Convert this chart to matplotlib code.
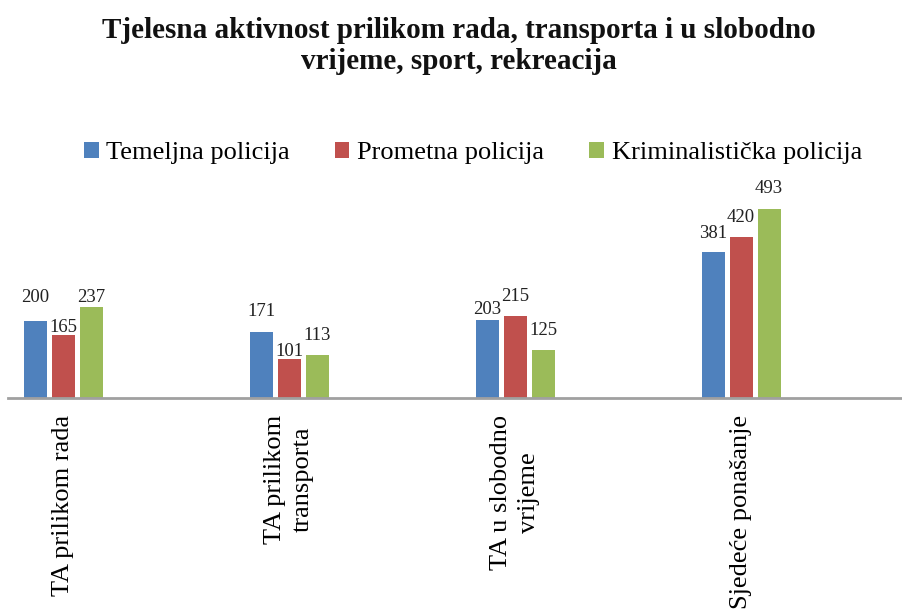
import matplotlib
matplotlib.use("Agg")
import matplotlib.pyplot as plt
import numpy as np

categories = ["TA prilikom rada", "TA prilikom\ntransporta", "TA u slobodno\nvrijeme", "Sjedeće ponašanje"]
series_names = ["Temeljna policija", "Prometna policija", "Kriminalistička policija"]
temeljna = [200, 171, 203, 381]
prometna = [165, 101, 215, 420]
kriminalisticka = [237, 113, 125, 493]

colors = ["#4F81BD", "#C0504D", "#9BBB59"]
# label gap above bar (pixels), mimicking the original label placement
label_gaps = [[19, 16, 6, 14], [3, 3, 15, 15], [5, 15, 15, 16]]

plt.rcParams['font.family'] = ['Liberation Serif', 'DejaVu Serif']

fig = plt.figure(figsize=(9.02, 6.09), dpi=100)
ax = fig.add_axes([8/902, (609-398)/609, 894/902, 520*0.3834/609])

x = np.arange(len(categories))
width = 23/226
step = 28/226
all_series = [temeljna, prometna, kriminalisticka]
for i, (vals, name, col) in enumerate(zip(all_series, series_names, colors)):
    pos = x + (i-1)*step
    bars = ax.bar(pos, vals, width, color=col, label=name, edgecolor='none')
    for j, (b, v) in enumerate(zip(bars, vals)):
        ax.annotate(str(v), (b.get_x()+b.get_width()/2, v), xytext=(0, label_gaps[i][j]*0.72),
                    textcoords='offset points', ha='center', va='baseline', fontsize=13.5, color='#222222')

ax.set_xlim(-(63-8)/226, (902-63)/226)
ax.set_ylim(0, 520)
for s in ['top', 'right', 'left']:
    ax.spines[s].set_visible(False)
ax.spines['bottom'].set_color('#A0A0A0')
ax.spines['bottom'].set_linewidth(2)
ax.set_yticks([])
ax.set_xticks(x)
ax.set_xticklabels(categories, rotation=90, fontsize=19, va='top', ha='center',
                   multialignment='center', linespacing=1.35)
ax.tick_params(axis='x', length=0, pad=12)

fig.text(459/902, 1-17/609, "Tjelesna aktivnost prilikom rada, transporta i u slobodno\nvrijeme, sport, rekreacija",
         ha='center', va='top', fontsize=21, fontweight='bold', linespacing=1.2, color='#111111')

fig.legend(loc='center', bbox_to_anchor=(473/902, 1-153/609), ncol=3, frameon=False,
           fontsize=19, handlelength=0.55, handleheight=0.55, handletextpad=0.3, columnspacing=1.7)

fig.savefig("out.png", dpi=100)
